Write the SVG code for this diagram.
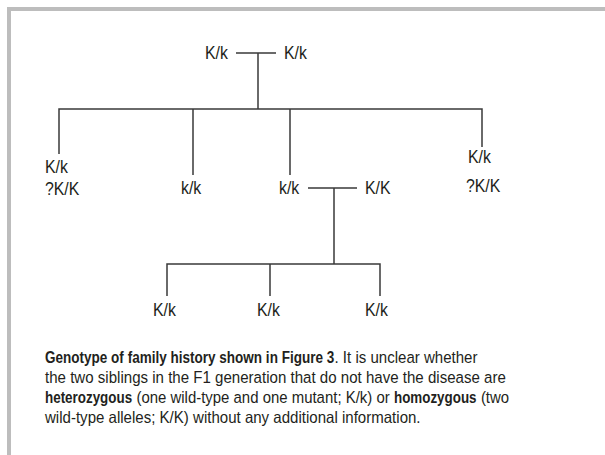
<svg xmlns="http://www.w3.org/2000/svg" width="605" height="455" viewBox="0 0 605 455">
  <style>
    .frame { fill: none; stroke: #bdbdbd; stroke-width: 4; }
    .conn { fill: none; stroke: #3a3a3a; stroke-width: 1.5; }
    .g { font-family: "Liberation Sans Narrow", "Arial Narrow", "Liberation Sans", sans-serif; font-size: 18px; fill: #231f20; }
    .cap { font-family: "Liberation Sans Narrow", "Arial Narrow", "Liberation Sans", sans-serif; font-size: 16.5px; fill: #231f20; }
    .b { font-weight: bold; }
  </style>
  <rect width="605" height="455" fill="#ffffff"/>
  <path class="frame" d="M9,455 V9 H605"/>

  <g id="connectors">
    <path class="conn" d="M236,53 H276 M258,53 V109"/>
    <path class="conn" d="M59,154 V109 H482 V147"/>
    <path class="conn" d="M193,109 V175 M290,109 V175"/>
    <path class="conn" d="M308,188 H357 M334,188 V264"/>
    <path class="conn" d="M167,296 V264 H380 V296 M270,264 V296"/>
  </g>

  <g id="p1-father"><text class="g" transform="translate(205,59) scale(0.88,1)">K/k</text></g>
  <g id="p1-mother"><text class="g" transform="translate(284,59) scale(0.88,1)">K/k</text></g>
  <g id="f1-sib1"><text class="g" transform="translate(45,173) scale(0.88,1)">K/k</text><text class="g" transform="translate(45,195) scale(0.88,1)">?K/K</text></g>
  <g id="f1-sib2"><text class="g" transform="translate(181,194) scale(0.88,1)">k/k</text></g>
  <g id="f1-sib3"><text class="g" transform="translate(279,194) scale(0.88,1)">k/k</text></g>
  <g id="f1-spouse"><text class="g" transform="translate(365,194) scale(0.88,1)">K/K</text></g>
  <g id="f1-sib4"><text class="g" transform="translate(468,163) scale(0.88,1)">K/k</text><text class="g" transform="translate(466,192) scale(0.88,1)">?K/K</text></g>
  <g id="f2-c1"><text class="g" transform="translate(153,316) scale(0.88,1)">K/k</text></g>
  <g id="f2-c2"><text class="g" transform="translate(257,316) scale(0.88,1)">K/k</text></g>
  <g id="f2-c3"><text class="g" transform="translate(365,316) scale(0.88,1)">K/k</text></g>

  <g id="caption" class="cap">
    <text class="b" transform="translate(45,363) scale(0.82,1)">Genotype of family history shown in Figure 3</text>
    <text transform="translate(334.5,363) scale(0.912,1)">. It is unclear whether</text>
    <text transform="translate(45,383) scale(0.914,1)">the two siblings in the F1 generation that do not have the disease are</text>
    <text class="b" transform="translate(45,403) scale(0.813,1)">heterozygous</text>
    <text transform="translate(136.4,403) scale(0.906,1)">(one wild-type and one mutant; K/k) or</text>
    <text class="b" transform="translate(394,403) scale(0.812,1)">homozygous</text>
    <text transform="translate(480.9,403) scale(0.904,1)">(two</text>
    <text transform="translate(45,423) scale(0.913,1)">wild-type alleles; K/K) without any additional information.</text>
  </g>
</svg>
